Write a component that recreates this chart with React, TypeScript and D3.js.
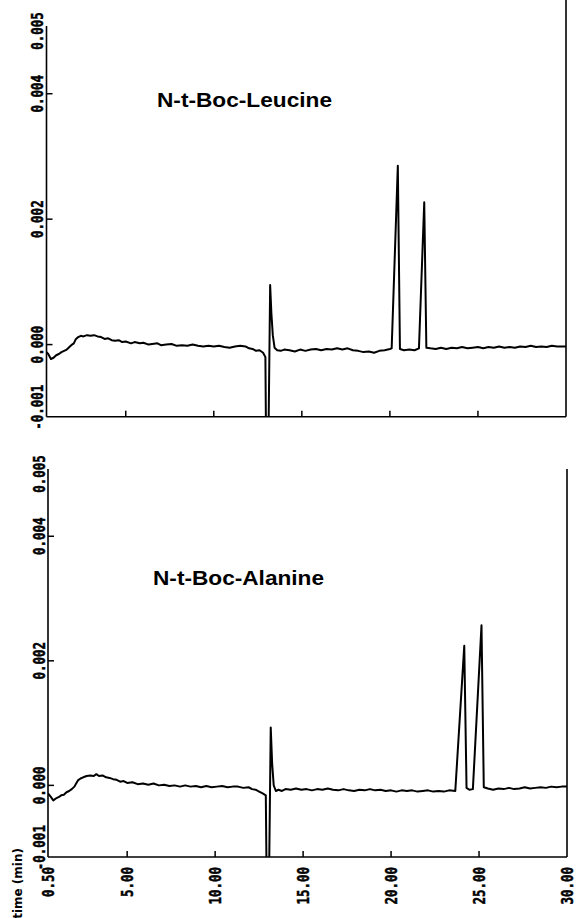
import * as d3 from "d3";

// chromatograms: [retention time (min), absorbance (x 1e-3 AU)]
const leucineTrace: [number, number][] = [
  [0.5, -0.12], [0.6, -0.15], [0.75, -0.23], [0.9, -0.21], [1.05, -0.17], [1.2, -0.15],
  [1.35, -0.12], [1.5, -0.1], [1.65, -0.08], [1.8, -0.04], [1.95, 0.0], [2.05, 0.02],
  [2.15, 0.08], [2.3, 0.12], [2.45, 0.14], [2.6, 0.13], [2.8, 0.15], [3.0, 0.14],
  [3.2, 0.15], [3.4, 0.13], [3.6, 0.12], [3.8, 0.09], [4.0, 0.1], [4.2, 0.07],
  [4.4, 0.06], [4.6, 0.07], [4.8, 0.04], [5.0, 0.05], [5.3, 0.02], [5.5, 0.04],
  [5.8, 0.02], [6.0, 0.03], [6.3, 0.0], [6.5, 0.01], [6.8, 0.02], [7.0, -0.01],
  [7.3, 0.0], [7.6, 0.01], [7.9, -0.02], [8.2, -0.01], [8.5, -0.02], [8.8, 0.0],
  [9.1, -0.02], [9.4, -0.03], [9.7, -0.02], [10.0, -0.03], [10.3, -0.02], [10.6, -0.04],
  [10.9, -0.05], [11.2, -0.03], [11.5, -0.02], [11.8, -0.03], [12.0, -0.06], [12.2, -0.07],
  [12.4, -0.1], [12.6, -0.09], [12.8, -0.13], [12.93, -0.2], [12.97, -1.6], [13.1, -1.6],
  [13.2, 0.95], [13.27, 0.5], [13.35, 0.15], [13.45, -0.05], [13.6, -0.09], [13.8, -0.1],
  [14.0, -0.08], [14.3, -0.09], [14.6, -0.11], [14.9, -0.08], [15.2, -0.1], [15.5, -0.08],
  [15.8, -0.07], [16.1, -0.09], [16.4, -0.07], [16.7, -0.08], [17.0, -0.06], [17.3, -0.08],
  [17.6, -0.06], [17.9, -0.09], [18.2, -0.1], [18.5, -0.12], [18.8, -0.11], [19.1, -0.13],
  [19.4, -0.1], [19.7, -0.09], [20.0, -0.07], [20.1, -0.06], [20.45, 2.85], [20.57, -0.07],
  [20.8, -0.09], [21.1, -0.08], [21.4, -0.09], [21.65, -0.06], [21.95, 2.27], [22.07, -0.05],
  [22.3, -0.06], [22.6, -0.07], [22.9, -0.05], [23.2, -0.07], [23.5, -0.05], [23.8, -0.06],
  [24.1, -0.04], [24.4, -0.06], [24.7, -0.05], [25.0, -0.04], [25.3, -0.06], [25.6, -0.04],
  [25.9, -0.05], [26.2, -0.03], [26.5, -0.05], [26.8, -0.04], [27.1, -0.05], [27.4, -0.03],
  [27.7, -0.04], [28.0, -0.02], [28.3, -0.04], [28.6, -0.03], [28.9, -0.04], [29.2, -0.02],
  [29.5, -0.03], [29.8, -0.03], [30.0, -0.03],
];

const alanineTrace: [number, number][] = [
  [0.5, -0.13], [0.65, -0.18], [0.8, -0.24], [0.95, -0.21], [1.1, -0.19], [1.25, -0.16],
  [1.4, -0.15], [1.55, -0.11], [1.7, -0.09], [1.85, -0.06], [2.0, -0.02], [2.1, 0.03],
  [2.2, 0.08], [2.35, 0.11], [2.5, 0.13], [2.7, 0.15], [2.9, 0.16], [3.1, 0.15],
  [3.25, 0.18], [3.4, 0.15], [3.6, 0.16], [3.8, 0.13], [4.0, 0.12], [4.2, 0.1],
  [4.4, 0.09], [4.6, 0.06], [4.8, 0.07], [5.0, 0.04], [5.3, 0.05], [5.6, 0.02],
  [5.9, 0.03], [6.2, 0.01], [6.5, 0.03], [6.8, 0.0], [7.1, 0.01], [7.4, -0.01],
  [7.7, 0.0], [8.0, -0.02], [8.3, 0.0], [8.6, -0.02], [8.9, -0.01], [9.2, -0.03],
  [9.5, -0.01], [9.8, -0.03], [10.1, -0.02], [10.4, -0.01], [10.7, -0.03], [11.0, -0.02],
  [11.3, -0.02], [11.6, -0.04], [11.9, -0.03], [12.1, -0.06], [12.3, -0.07], [12.5, -0.1],
  [12.7, -0.13], [12.88, -0.16], [12.93, -1.6], [13.06, -1.6], [13.16, 0.93], [13.24, 0.35],
  [13.33, 0.0], [13.45, -0.09], [13.6, -0.07], [13.8, -0.09], [14.0, -0.06], [14.3, -0.07],
  [14.6, -0.05], [14.9, -0.07], [15.2, -0.06], [15.5, -0.08], [15.8, -0.06], [16.1, -0.07],
  [16.4, -0.05], [16.7, -0.07], [17.0, -0.08], [17.3, -0.06], [17.6, -0.08], [17.9, -0.09],
  [18.2, -0.07], [18.5, -0.08], [18.8, -0.06], [19.1, -0.08], [19.4, -0.07], [19.7, -0.09],
  [20.0, -0.08], [20.3, -0.1], [20.6, -0.08], [20.9, -0.09], [21.2, -0.08], [21.5, -0.1],
  [21.8, -0.09], [22.1, -0.08], [22.4, -0.1], [22.7, -0.09], [23.0, -0.1], [23.3, -0.08],
  [23.65, -0.09], [24.16, 2.24], [24.29, -0.04], [24.45, -0.07], [24.65, -0.06], [25.14, 2.57],
  [25.27, -0.03], [25.5, -0.05], [25.8, -0.07], [26.1, -0.05], [26.4, -0.06], [26.7, -0.04],
  [27.0, -0.06], [27.3, -0.05], [27.6, -0.03], [27.9, -0.05], [28.2, -0.04], [28.5, -0.03],
  [28.8, -0.04], [29.1, -0.02], [29.4, -0.03], [29.7, -0.02], [30.0, -0.02],
];

const titles = ["N-t-Boc-Leucine", "N-t-Boc-Alanine"];
const xTicks = [5, 10, 15, 20, 25];
const xLabelValues = [0.5, 5, 10, 15, 20, 25, 30];
const xLabels = ["0.50", "5.00", "10.00", "15.00", "20.00", "25.00", "30.00"];
const yTicks = [0.004, 0.002, 0.0];
const yLabelValues = [0.005, 0.004, 0.002, 0.0, -0.001];
const yLabels = ["0.005", "0.004", "0.002", "0.000", "-0.001"];
const xAxisTitle = "time (min)";

const W = 577;
const H = 918;
const monoFont = "'DejaVu Sans Mono', monospace";

const panels = [
  { title: titles[0], trace: leucineTrace, x0: 46.5, x1: 566, top: 26, bottom: 416.7, frameTop: 0, tx: 157, ty: 106.5, tw: 175, xLabels: false },
  { title: titles[1], trace: alanineTrace, x0: 48, x1: 567, top: 469, bottom: 857, frameTop: 469, tx: 153, ty: 585, tw: 171, xLabels: true },
];

const Panel = ({ p, i }: { p: (typeof panels)[number]; i: number }) => {
  const x = d3.scaleLinear().domain([0.5, 30]).range([p.x0, p.x1]);
  const y = d3.scaleLinear().domain([-0.00115, 0.00508]).range([p.bottom, p.top]);
  const line = d3
    .line<[number, number]>()
    .x((d) => x(d[0]))
    .y((d) => y(d[1] / 1000));

  return (
    <g>
      <defs>
        <clipPath id={`clip${i}`}>
          <rect x={p.x0} y={0} width={p.x1 - p.x0} height={p.bottom} />
        </clipPath>
      </defs>
      <path d={line(p.trace) || ""} fill="none" stroke="#000" strokeWidth={2} strokeLinejoin="round" clipPath={`url(#clip${i})`} />

      {/* axes */}
      <line x1={p.x0} x2={p.x0} y1={p.top} y2={p.bottom} stroke="#000" strokeWidth={1.6} />
      <line x1={p.x0} x2={p.x1} y1={p.bottom} y2={p.bottom} stroke="#000" strokeWidth={1.6} />
      <line x1={p.x1} x2={p.x1} y1={p.frameTop} y2={p.bottom} stroke="#000" strokeWidth={1.6} />

      {xTicks.map((t) => (
        <line key={t} x1={x(t)} x2={x(t)} y1={p.bottom} y2={p.bottom - 6} stroke="#000" strokeWidth={1.5} />
      ))}
      {yTicks.map((v) => (
        <line key={v} x1={p.x0} x2={p.x0 + 6} y1={y(v)} y2={y(v)} stroke="#000" strokeWidth={1.5} />
      ))}

      {yLabelValues.map((v, k) => (
        <text
          key={v}
          transform={`translate(${p.x0 - 3.5},${y(v)}) rotate(-90) scale(1,1.2)`}
          textAnchor="middle"
          fontFamily={monoFont}
          fontWeight="bold"
          fontSize={12.5}
          stroke="#000"
          strokeWidth={0.4}
        >
          {yLabels[k]}
        </text>
      ))}

      {p.xLabels &&
        xLabelValues.map((t, k) => (
          <text
            key={t}
            transform={`translate(${x(t) + 6},${p.bottom + 10}) rotate(-90) scale(1,1.2)`}
            textAnchor="end"
            fontFamily={monoFont}
            fontWeight="bold"
            fontSize={12.5}
            stroke="#000"
            strokeWidth={0.4}
          >
            {xLabels[k]}
          </text>
        ))}

      <text
        x={p.tx}
        y={p.ty}
        fontFamily="'Liberation Sans', Arial, sans-serif"
        fontWeight="bold"
        fontSize={19.5}
        textLength={p.tw}
        lengthAdjust="spacingAndGlyphs"
      >
        {p.title}
      </text>
    </g>
  );
};

export default function App() {
  return (
    <svg width={W} height={H} style={{ position: "absolute", left: 0, top: 0, background: "#fff" }}>
      <rect width={W} height={H} fill="#fff" />
      {panels.map((p, i) => (
        <Panel key={i} p={p} i={i} />
      ))}
      <text
        transform="translate(22,848) rotate(-90)"
        textAnchor="end"
        fontFamily="'DejaVu Sans', sans-serif"
        fontWeight="bold"
        fontSize={12}
      >
        {xAxisTitle}
      </text>
    </svg>
  );
}
